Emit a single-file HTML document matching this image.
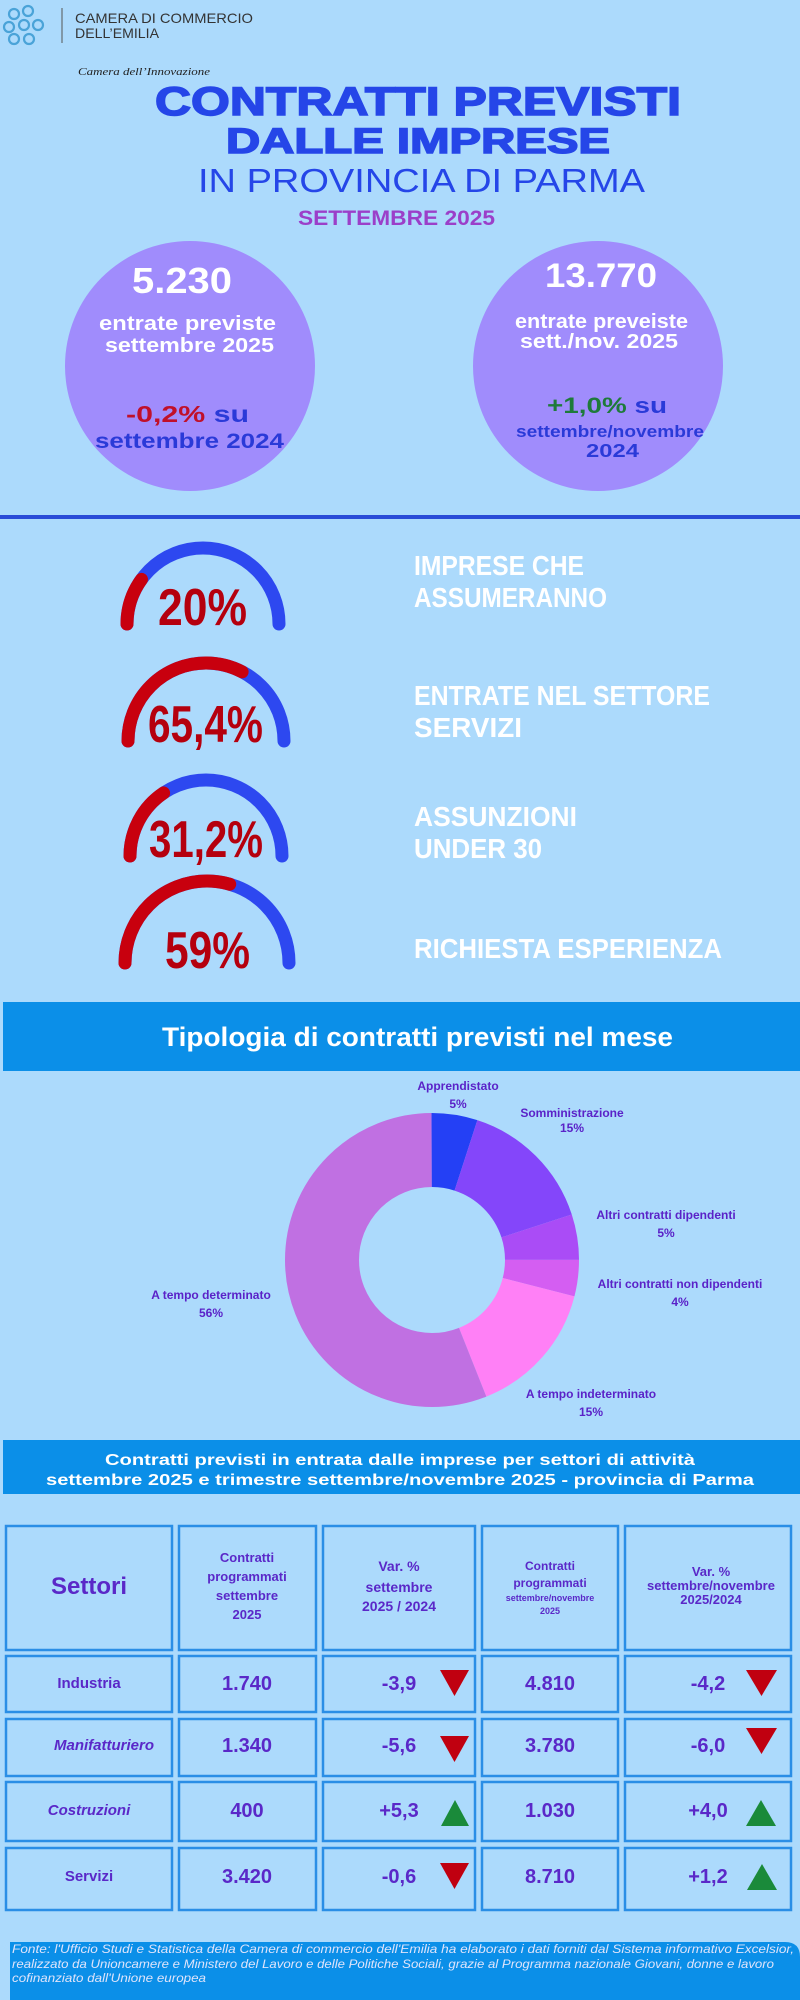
<!DOCTYPE html>
<html><head><meta charset="utf-8"><style>
html,body{margin:0;padding:0;background:#acdafc;}
svg{display:block}
text{font-family:"Liberation Sans",sans-serif;}
</style></head><body>
<svg width="800" height="2000" viewBox="0 0 800 2000" xmlns="http://www.w3.org/2000/svg">
<rect width="800" height="2000" fill="#acdafc"/>
<!-- logo -->
<g fill="none" stroke="#4aa3d8" stroke-width="2.2">
<circle cx="14" cy="14" r="5"/><circle cx="28" cy="11" r="5"/><circle cx="9" cy="27" r="5"/><circle cx="24" cy="25" r="5"/><circle cx="38" cy="25" r="5"/><circle cx="14" cy="39" r="5"/><circle cx="29" cy="39" r="5"/>
</g>
<line x1="62" y1="8" x2="62" y2="43" stroke="#555" stroke-width="1"/>
<text x="75" y="23" font-size="14" fill="#333" textLength="178" lengthAdjust="spacingAndGlyphs">CAMERA DI COMMERCIO</text>
<text x="75" y="38" font-size="14" fill="#333" textLength="84" lengthAdjust="spacingAndGlyphs">DELL’EMILIA</text>
<text x="78" y="75" font-size="11" font-style="italic" fill="#222" textLength="132" lengthAdjust="spacingAndGlyphs" style="font-family:'Liberation Serif',serif">Camera dell’Innovazione</text>
<!-- title -->
<text x="155" y="115" font-size="40" font-weight="bold" fill="#2546e8" textLength="526" lengthAdjust="spacingAndGlyphs" stroke="#2546e8" stroke-width="1.5">CONTRATTI PREVISTI</text>
<text x="226" y="153" font-size="35" font-weight="bold" fill="#2546e8" textLength="384" lengthAdjust="spacingAndGlyphs" stroke="#2546e8" stroke-width="1.5">DALLE IMPRESE</text>
<text x="198" y="192" font-size="33" fill="#2546e8" textLength="447" lengthAdjust="spacingAndGlyphs">IN PROVINCIA DI PARMA</text>
<text x="298" y="225" font-size="21" font-weight="bold" fill="#9b3fc9" textLength="197" lengthAdjust="spacingAndGlyphs">SETTEMBRE 2025</text>
<!-- circles -->
<circle cx="190" cy="366" r="125" fill="#a08cfc"/>
<circle cx="598" cy="366" r="125" fill="#a08cfc"/>
<text x="132" y="293" font-size="36" font-weight="bold" fill="#fff" textLength="100" lengthAdjust="spacingAndGlyphs">5.230</text>
<text x="99" y="330" font-size="20" font-weight="bold" fill="#fff" textLength="177" lengthAdjust="spacingAndGlyphs">entrate  previste</text>
<text x="105" y="352" font-size="20" font-weight="bold" fill="#fff" textLength="169" lengthAdjust="spacingAndGlyphs">settembre 2025</text>
<text x="126" y="422" font-size="23" font-weight="bold" textLength="123" lengthAdjust="spacingAndGlyphs"><tspan fill="#c0102a">-0,2%</tspan><tspan fill="#2a3ad8"> su</tspan></text>
<text x="95" y="448" font-size="21" font-weight="bold" fill="#2a3ad8" textLength="189" lengthAdjust="spacingAndGlyphs">settembre 2024</text>
<text x="545" y="287" font-size="34" font-weight="bold" fill="#fff" textLength="112" lengthAdjust="spacingAndGlyphs">13.770</text>
<text x="515" y="328" font-size="20" font-weight="bold" fill="#fff" textLength="173" lengthAdjust="spacingAndGlyphs">entrate preveiste</text>
<text x="520" y="348" font-size="20" font-weight="bold" fill="#fff" textLength="158" lengthAdjust="spacingAndGlyphs">sett./nov. 2025</text>
<text x="547" y="413" font-size="22" font-weight="bold" textLength="120" lengthAdjust="spacingAndGlyphs"><tspan fill="#1e7a3a">+1,0%</tspan><tspan fill="#2a3ad8"> su</tspan></text>
<text x="516" y="437" font-size="17" font-weight="bold" fill="#2a3ad8" textLength="188" lengthAdjust="spacingAndGlyphs">settembre/novembre</text>
<text x="586" y="457" font-size="18" font-weight="bold" fill="#2a3ad8" textLength="53" lengthAdjust="spacingAndGlyphs">2024</text>
<rect x="0" y="515" width="800" height="4" fill="#2a4bd7"/>
<!-- gauges -->
<g fill="none" stroke-width="13" stroke-linecap="round">
<path d="M127 624 A76 76 0 0 1 279 624" stroke="#2d48f0" pathLength="100"/>
<path d="M127 624 A76 76 0 0 1 279 624" stroke="#c8000e" pathLength="100" stroke-dasharray="20 100"/>
<path d="M128 741 A78 78 0 0 1 284 741" stroke="#2d48f0" pathLength="100"/>
<path d="M128 741 A78 78 0 0 1 284 741" stroke="#c8000e" pathLength="100" stroke-dasharray="65.4 100"/>
<path d="M130 856 A76 76 0 0 1 282 856" stroke="#2d48f0" pathLength="100"/>
<path d="M130 856 A76 76 0 0 1 282 856" stroke="#c8000e" pathLength="100" stroke-dasharray="31.2 100"/>
<path d="M125 963 A82 82 0 0 1 289 963" stroke="#2d48f0" pathLength="100"/>
<path d="M125 963 A82 82 0 0 1 289 963" stroke="#c8000e" pathLength="100" stroke-dasharray="59 100"/>
</g>
<g font-weight="bold" fill="#b5000e" font-size="52">
<text x="158" y="625" textLength="89" lengthAdjust="spacingAndGlyphs">20%</text>
<text x="148" y="742" textLength="115" lengthAdjust="spacingAndGlyphs">65,4%</text>
<text x="149" y="857" textLength="114" lengthAdjust="spacingAndGlyphs">31,2%</text>
<text x="165" y="968" textLength="85" lengthAdjust="spacingAndGlyphs">59%</text>
</g>
<g font-weight="bold" fill="#fff" font-size="28">
<text x="414" y="575" textLength="170" lengthAdjust="spacingAndGlyphs">IMPRESE CHE</text>
<text x="414" y="607" textLength="193" lengthAdjust="spacingAndGlyphs">ASSUMERANNO</text>
<text x="414" y="705" textLength="296" lengthAdjust="spacingAndGlyphs">ENTRATE NEL SETTORE</text>
<text x="414" y="737" textLength="108" lengthAdjust="spacingAndGlyphs">SERVIZI</text>
<text x="414" y="826" textLength="163" lengthAdjust="spacingAndGlyphs">ASSUNZIONI</text>
<text x="414" y="858" textLength="128" lengthAdjust="spacingAndGlyphs">UNDER 30</text>
<text x="414" y="958" textLength="308" lengthAdjust="spacingAndGlyphs">RICHIESTA ESPERIENZA</text>
</g>
<!-- donut section -->
<rect x="3" y="1002" width="797" height="69" fill="#0b8fe8"/>
<text x="162" y="1046" font-size="27" font-weight="bold" fill="#fff" textLength="511" lengthAdjust="spacingAndGlyphs">Tipologia di contratti previsti nel mese</text>
<g transform="rotate(-90 432 1260)" fill="none" stroke-width="74">
<circle cx="432" cy="1260" r="110" pathLength="100" stroke="#2440f5" stroke-dasharray="5 95" stroke-dashoffset="0"/>
<circle cx="432" cy="1260" r="110" pathLength="100" stroke="#8446fa" stroke-dasharray="15 85" stroke-dashoffset="-5"/>
<circle cx="432" cy="1260" r="110" pathLength="100" stroke="#aa4cf6" stroke-dasharray="5 95" stroke-dashoffset="-20"/>
<circle cx="432" cy="1260" r="110" pathLength="100" stroke="#d45ef2" stroke-dasharray="4 96" stroke-dashoffset="-25"/>
<circle cx="432" cy="1260" r="110" pathLength="100" stroke="#ff80f6" stroke-dasharray="15 85" stroke-dashoffset="-29"/>
<circle cx="432" cy="1260" r="110" pathLength="100" stroke="#c070e2" stroke-dasharray="56 44" stroke-dashoffset="-44"/>
</g>
<g font-size="12" font-weight="bold" fill="#5a22c8" text-anchor="middle">
<text x="458" y="1090">Apprendistato</text><text x="458" y="1108">5%</text>
<text x="572" y="1117">Somministrazione</text><text x="572" y="1132">15%</text>
<text x="666" y="1219">Altri contratti dipendenti</text><text x="666" y="1237">5%</text>
<text x="680" y="1288">Altri contratti non dipendenti</text><text x="680" y="1306">4%</text>
<text x="591" y="1398">A tempo indeterminato</text><text x="591" y="1416">15%</text>
<text x="211" y="1299">A tempo determinato</text><text x="211" y="1317">56%</text>
</g>
<!-- table -->
<rect x="3" y="1440" width="797" height="54" fill="#0b8fe8"/>
<text x="105" y="1465" font-size="16" font-weight="bold" fill="#fff" textLength="590" lengthAdjust="spacingAndGlyphs">Contratti previsti in entrata dalle imprese per settori di attività</text>
<text x="46" y="1485" font-size="16" font-weight="bold" fill="#fff" textLength="708" lengthAdjust="spacingAndGlyphs">settembre 2025 e trimestre settembre/novembre 2025 - provincia di Parma</text>
<g fill="none" stroke="#2a8ee6" stroke-width="2.5">
<rect x="6" y="1526" width="166" height="124"/><rect x="179" y="1526" width="137" height="124"/><rect x="323" y="1526" width="152" height="124"/><rect x="482" y="1526" width="136" height="124"/><rect x="625" y="1526" width="166" height="124"/>
<rect x="6" y="1656" width="166" height="56"/><rect x="179" y="1656" width="137" height="56"/><rect x="323" y="1656" width="152" height="56"/><rect x="482" y="1656" width="136" height="56"/><rect x="625" y="1656" width="166" height="56"/>
<rect x="6" y="1719" width="166" height="57"/><rect x="179" y="1719" width="137" height="57"/><rect x="323" y="1719" width="152" height="57"/><rect x="482" y="1719" width="136" height="57"/><rect x="625" y="1719" width="166" height="57"/>
<rect x="6" y="1782" width="166" height="59"/><rect x="179" y="1782" width="137" height="59"/><rect x="323" y="1782" width="152" height="59"/><rect x="482" y="1782" width="136" height="59"/><rect x="625" y="1782" width="166" height="59"/>
<rect x="6" y="1848" width="166" height="62"/><rect x="179" y="1848" width="137" height="62"/><rect x="323" y="1848" width="152" height="62"/><rect x="482" y="1848" width="136" height="62"/><rect x="625" y="1848" width="166" height="62"/>
</g>
<g font-weight="bold" fill="#5a28c8" text-anchor="middle">
<text x="89" y="1594" font-size="24">Settori</text>
<g font-size="13"><text x="247" y="1562">Contratti</text><text x="247" y="1581">programmati</text><text x="247" y="1600">settembre</text><text x="247" y="1619">2025</text></g>
<g font-size="14"><text x="399" y="1571">Var. %</text><text x="399" y="1592">settembre</text><text x="399" y="1611">2025 / 2024</text></g>
<g font-size="12"><text x="550" y="1570">Contratti</text><text x="550" y="1587">programmati</text><text x="550" y="1601" font-size="9">settembre/novembre</text><text x="550" y="1614" font-size="9">2025</text></g>
<g font-size="13"><text x="711" y="1576">Var. %</text><text x="711" y="1590">settembre/novembre</text><text x="711" y="1604">2025/2024</text></g>
<g font-size="15"><text x="89" y="1688">Industria</text><text x="104" y="1750" font-style="italic">Manifatturiero</text><text x="89" y="1815" font-style="italic">Costruzioni</text><text x="89" y="1881">Servizi</text></g>
<g font-size="20"><text x="247" y="1690">1.740</text><text x="247" y="1752">1.340</text><text x="247" y="1817">400</text><text x="247" y="1883">3.420</text>
<text x="399" y="1690">-3,9</text><text x="399" y="1752">-5,6</text><text x="399" y="1817">+5,3</text><text x="399" y="1883">-0,6</text>
<text x="550" y="1690">4.810</text><text x="550" y="1752">3.780</text><text x="550" y="1817">1.030</text><text x="550" y="1883">8.710</text>
<text x="708" y="1690">-4,2</text><text x="708" y="1752">-6,0</text><text x="708" y="1817">+4,0</text><text x="708" y="1883">+1,2</text></g>
</g>
<g>
<polygon points="440,1670 469,1670 454.5,1696" fill="#c00010"/>
<polygon points="440,1736 469,1736 454.5,1762" fill="#c00010"/>
<polygon points="441,1826 469,1826 455,1800" fill="#1a8a3a"/>
<polygon points="440,1863 469,1863 454.5,1889" fill="#c00010"/>
<polygon points="746,1670 777,1670 761.5,1696" fill="#c00010"/>
<polygon points="746,1728 777,1728 761.5,1754" fill="#c00010"/>
<polygon points="746,1826 776,1826 761,1800" fill="#1a8a3a"/>
<polygon points="747,1890 777,1890 762,1864" fill="#1a8a3a"/>
</g>
<!-- footer -->
<path d="M10 1942 H785 Q800 1942 800 1957 V2000 H10 Z" fill="#0b8fe8"/>
<g font-size="12" font-style="italic" fill="#dfe4fb">
<text x="12" y="1953" textLength="782" lengthAdjust="spacingAndGlyphs">Fonte: l'Ufficio Studi e Statistica della Camera di commercio dell'Emilia ha elaborato i dati forniti dal Sistema informativo Excelsior,</text>
<text x="12" y="1968" textLength="762" lengthAdjust="spacingAndGlyphs">realizzato da Unioncamere e Ministero del Lavoro e delle Politiche Sociali, grazie al Programma nazionale Giovani, donne e lavoro</text>
<text x="12" y="1982" textLength="194" lengthAdjust="spacingAndGlyphs">cofinanziato dall'Unione europea</text>
</g>
</svg>
</body></html>
